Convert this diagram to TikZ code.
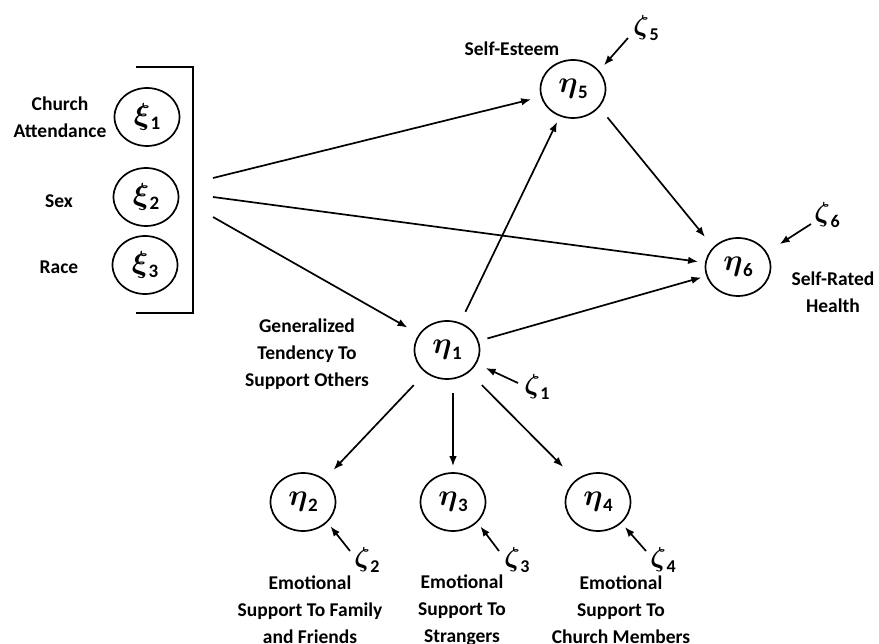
\RequirePackage{fix-cm}
\documentclass[tikz,border=0pt]{standalone}
\usepackage{amsmath,bm}
\usepackage{fontspec}
\setmainfont{Carlito}
\usetikzlibrary{arrows.meta,shapes.geometric}
\newcommand{\gsym}[2]{\scalebox{1.22}{$\bm{#1}$}\kern0.5pt\raisebox{-0.45ex}{\fontsize{19}{19}\selectfont\bfseries #2}}
\newcommand{\zsym}[1]{\scalebox{1.1}{$\bm{\zeta}$}\kern0.5pt\raisebox{-0.45ex}{\fontsize{18}{18}\selectfont\bfseries #1}}
\begin{document}
\begin{tikzpicture}[x=1pt,y=-1pt,
 lat/.style={ellipse,draw,line width=1.7pt,minimum width=65pt,minimum height=58pt,inner sep=0pt,font=\fontsize{24.88}{25}\selectfont},
 lab/.style={align=center,font=\fontsize{19.5}{27}\selectfont\bfseries},
 zl/.style={font=\fontsize{24.88}{25}\selectfont,inner sep=0pt},
 arr/.style={line width=1.7pt,-{Latex[length=10pt,width=7.5pt]}},
 brk/.style={line width=1.8pt}
]
\useasboundingbox (0,0) rectangle (879,644);
% exogenous
\node[lat] (x1) at (147,117) {\gsym{\xi}{1}};
\node[lat] (x2) at (146,197) {\gsym{\xi}{2}};
\node[lat] (x3) at (145,265) {\gsym{\xi}{3}};
\node[lab] (lx1) at (60,117) {Church\\Attendance};
\node[lab] (lx2) at (59,201) {Sex};
\node[lab] (lx3) at (59,267) {Race};
\coordinate (b1) at (136,67);
\coordinate (b2) at (193,67);
\coordinate (b3) at (193,313);
\coordinate (b4) at (136,313);
\draw[brk] (b1) -- (b2) -- (b3) -- (b4);
\coordinate (s1) at (213,178);
\coordinate (s2) at (213,197);
\coordinate (s3) at (213,217);
% endogenous
\node[lat] (e1) at (447,350) {\gsym{\eta}{1}};
\node[lat] (e2) at (303,502) {\gsym{\eta}{2}};
\node[lat] (e3) at (453,502) {\gsym{\eta}{3}};
\node[lat] (e4) at (598,502) {\gsym{\eta}{4}};
\node[lat] (e5) at (573,89) {\gsym{\eta}{5}};
\node[lat] (e6) at (738,267) {\gsym{\eta}{6}};
% labels
\node[lab] (l5) at (512,49) {Self-Esteem};
\node[lab] (l6) at (833,292) {Self-Rated\\Health};
\node[lab] (l1) at (307,354) {Generalized\\Tendency To\\Support Others};
\node[lab] (l2) at (310,610) {Emotional\\Support To Family\\and Friends};
\node[lab] (l3) at (462,610) {Emotional\\Support To\\Strangers};
\node[lab] (l4) at (621,610) {Emotional\\Support To\\Church Members};
% disturbances
\node[zl] (z5) at (646,28) {\zsym{5}};
\node[zl] (z6) at (827,215) {\zsym{6}};
\node[zl] (z1) at (537,387) {\zsym{1}};
\node[zl] (z2) at (367,560) {\zsym{2}};
\node[zl] (z3) at (517,560) {\zsym{3}};
\node[zl] (z4) at (663,560) {\zsym{4}};
\coordinate (c5) at (628,38);
\coordinate (c6) at (811,224);
\coordinate (c1) at (518,383);
\coordinate (c2) at (350,551);
\coordinate (c3) at (499,551);
\coordinate (c4) at (646,551);
% arrows
\draw[arr,shorten >=10pt] (s1) -- (e5);
\draw[arr,shorten >=7pt] (s2) -- (e6);
\draw[arr,shorten >=13pt] (s3) -- (e1);
\draw[arr,shorten <=12pt,shorten >=6pt] (e1) -- (e5);
\draw[arr,shorten <=9pt,shorten >=5pt] (e1) -- (e6);
\draw[arr,shorten <=13pt,shorten >=13pt] (e5.-35) -- (e6.141);
\draw[arr,shorten <=17pt,shorten >=13pt] (e1) -- (e2);
\draw[arr,shorten <=13pt,shorten >=6pt] (e3 |- e1.south) -- (e3.north);
\draw[arr,shorten <=18pt,shorten >=18pt] (e1) -- (e4);
\draw[arr,shorten >=7pt] (c5) -- (e5.35);
\draw[arr,shorten >=15pt] (c6) -- (e6.27);
\draw[arr,shorten >=10pt] (c1) -- (e1.-25);
\draw[arr,shorten >=5pt] (c2) -- (e2.-40);
\draw[arr,shorten >=5pt] (c3) -- (e3.-40);
\draw[arr,shorten >=5pt] (c4) -- (e4.-42);
\end{tikzpicture}
\end{document}
